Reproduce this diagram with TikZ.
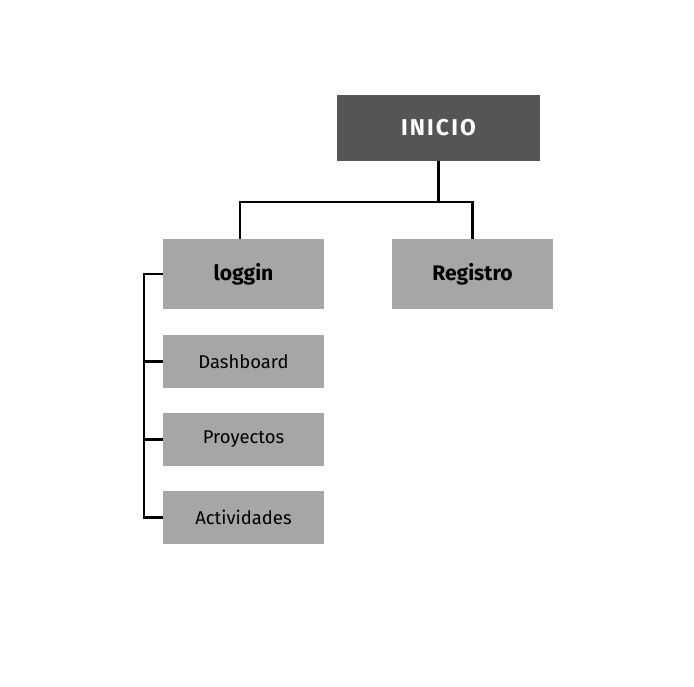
\documentclass[tikz,border=0pt]{standalone}
\usepackage{fontspec}
\setmainfont{Fira Sans}
\usepackage{tikz}
\usetikzlibrary{positioning, calc}
\definecolor{topgray}{HTML}{555555}
\definecolor{boxgray}{HTML}{A6A6A6}
\tikzset{
  topbox/.style={fill=topgray, text=white, minimum width=4.06cm, minimum height=1.32cm, font=\fontsize{13}{15}\selectfont\bfseries},
  mainbox/.style={fill=boxgray, minimum width=3.22cm, minimum height=1.4cm, font=\fontsize{12}{14}\selectfont\bfseries},
  subbox/.style={fill=boxgray, minimum width=3.22cm, minimum height=1.06cm, font=\fontsize{10.5}{12}\selectfont},
  link/.style={line width=1.4pt}
}
\begin{document}
\begin{tikzpicture}[x=0.02cm, y=-0.02cm]
\useasboundingbox (0,0) rectangle (694,687);

\node[topbox] (inicio) at (438.5,128) {I\kern1.2pt N\kern1.2pt I\kern1.2pt C\kern1.2pt I\kern1.2pt O};
\node[mainbox] (loggin) at (243.5,274) {loggin};
\node[mainbox] (registro) at (472.5,274) {Registro};
\node[subbox] (dashboard) at (243.5,361.5) {Dashboard};
\node[subbox] (proyectos) at (243.5,439.5) {Proyectos};
\node[subbox] (actividades) at (243.5,517.5) {Actividades};

% upper level
\coordinate (split) at (438.5,202);
\draw[link] (inicio.south) -- (split);
\draw[link] (split) -| ($(loggin.north)+(-3.5,0)$);
\draw[link] (split) -| (registro.north);

% left rail
\coordinate (rail) at (144,274);
\draw[link] (loggin.west) -- (rail) |- (actividades.west);
\foreach \n in {dashboard, proyectos}
  \draw[link] (rail |- \n.west) -- (\n.west);
\end{tikzpicture}
\end{document}
